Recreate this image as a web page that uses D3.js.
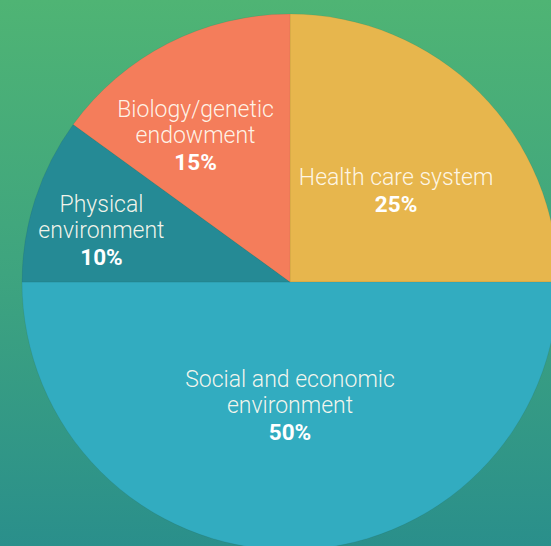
<!DOCTYPE html>
<html>
<head>
<meta charset="utf-8">
<script src="https://cdn.jsdelivr.net/npm/d3@7"></script>
<style>
  html, body { margin: 0; padding: 0; overflow: hidden; }
  svg { display: block; }
</style>
</head>
<body>
<svg id="chart" width="551" height="546"></svg>
<script>
// ---- data ----
const categories = ["Health care system", "Social and economic environment", "Physical environment", "Biology/genetic endowment"];
const labelLines = [["Health care system"], ["Social and economic", "environment"], ["Physical", "environment"], ["Biology/genetic", "endowment"]];
const values = [25, 50, 10, 15];
const colors = ["#e7b64d", "#32acc0", "#258a95", "#f47d5b"];

// ---- label layout (polar angle in degrees from top, radius) ----
const labelAngle = [51.8, 180, 283.1, 325.8];
const labelRadius = [135, 131, 193.6, 168];

const W = 551, H = 546;
const cx = 290, cy = 282, R = 268;

const svg = d3.select("#chart");
const defs = svg.append("defs");
const grad = defs.append("linearGradient").attr("id", "bg").attr("x1", 0).attr("y1", 0).attr("x2", 0).attr("y2", 1);
grad.append("stop").attr("offset", "0%").attr("stop-color", "#4fb474");
grad.append("stop").attr("offset", "50%").attr("stop-color", "#3ea47f");
grad.append("stop").attr("offset", "100%").attr("stop-color", "#2a8f8b");
svg.append("rect").attr("width", W).attr("height", H).attr("fill", "url(#bg)");

const pie = d3.pie().sort(null).value(d => d)(values);
const arc = d3.arc().innerRadius(0).outerRadius(R);

const g = svg.append("g").attr("transform", `translate(${cx},${cy})`);
g.selectAll("path.slice").data(pie).join("path")
  .attr("class", "slice")
  .attr("d", arc)
  .attr("fill", (d, i) => colors[i])
  .attr("stroke", "rgba(0,0,0,0.08)")
  .attr("stroke-width", 0.8);

const lineH = 26.5;
pie.forEach((d, i) => {
  const a = labelAngle[i] * Math.PI / 180;
  const x = labelRadius[i] * Math.sin(a);
  const y = -labelRadius[i] * Math.cos(a);
  const lines = labelLines[i].concat([values[i] + "%"]);
  const n = lines.length;
  const t = g.append("text")
    .attr("text-anchor", "middle")
    .attr("transform", `translate(${x},${y})`);
  lines.forEach((ln, k) => {
    const isPct = k === n - 1;
    t.append("tspan")
      .attr("x", 0)
      .attr("y", (k - (n - 1) / 2) * lineH)
      .attr("font-family", "Roboto, sans-serif")
      .attr("font-weight", isPct ? 700 : 300)
      .attr("font-size", isPct ? 22.5 : 23)
      .attr("fill", isPct ? "#ffffff" : "rgba(255,250,240,0.95)")
      .text(ln);
  });
});
</script>
</body>
</html>
